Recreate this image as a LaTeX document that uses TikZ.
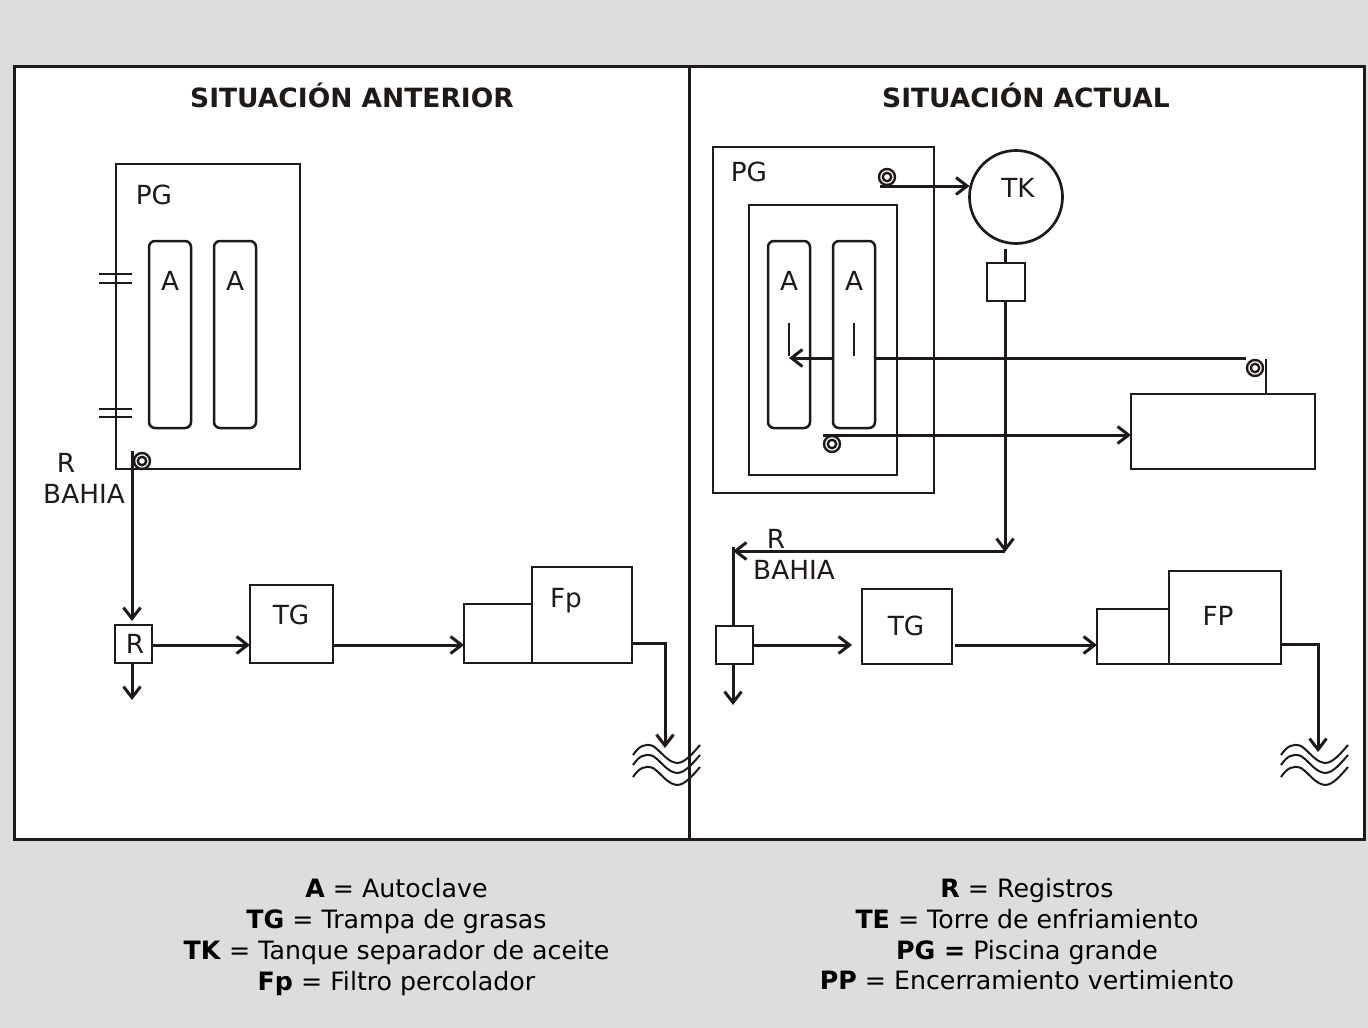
\documentclass[tikz,border=0pt]{standalone}
\usepackage{fontspec}
\setmainfont{DejaVu Sans}
\usepackage{xcolor}
\definecolor{panelGray}{HTML}{DDDDDD}
\definecolor{inkBlack}{HTML}{1F1A17}
\usetikzlibrary{arrows.meta}
\tikzset{
  boxnode/.style={draw=inkBlack, fill=white, line width=2.7pt, inner sep=0pt, outer sep=0pt, anchor=north west},
  tanknode/.style={boxnode, line width=2.5pt, rounded corners=6pt},
  pipe/.style={draw=inkBlack, line width=3pt, line cap=butt},
  tick/.style={draw=inkBlack, line width=2.1pt},
  label/.style={text=inkBlack, inner sep=0pt, font=\fontsize{26.3}{31}\selectfont},
  heading/.style={text=inkBlack, inner sep=0pt, font=\fontsize{26.5}{31}\selectfont\bfseries},
  legend/.style={text=black, inner sep=0pt, align=center, font=\fontsize{25.25}{30.7}\selectfont},
}
% drain symbol, three waves
\newcommand{\waves}[2]{
  \foreach \dy in {0,10,22}
    \draw[inkBlack, line width=2pt] (#1,#2+\dy) .. controls (#1+6,#2-9+\dy) and (#1+12,#2-12+\dy) .. (#1+20,#2-9+\dy)
      .. controls (#1+28,#2-4+\dy) and (#1+34,#2+7+\dy) .. (#1+44,#2+8+\dy)
      .. controls (#1+52,#2+8+\dy) and (#1+60,#2-2+\dy) .. (#1+67,#2-10+\dy);
}
% valve mark
\newcommand{\valve}[3]{
  \node[circle, draw=inkBlack, fill=white, line width=2.4pt, minimum size=16pt, inner sep=0pt] (#1) at (#2,#3) {};
  \draw[inkBlack, line width=2.4pt] (#1.center) circle (4.2);
}
\begin{document}
\begin{tikzpicture}[x=1pt, y=-1pt, >={Straight Barb[length=11pt, width=17pt]}]
  \useasboundingbox (0,0) rectangle (1368,1028);
  \fill[panelGray] (0,0) rectangle (1368,1028);
  % panels
  \node[boxnode, line width=3pt, minimum width=675, minimum height=773] (panelOld) at (14,66) {};
  \node[boxnode, line width=3pt, minimum width=675, minimum height=773] (panelNew) at (689,66) {};
  \node[heading] (titleOld) at (352,95.5) {SITUACIÓN ANTERIOR};
  \node[heading] (titleNew) at (1026,95.5) {SITUACIÓN ACTUAL};

  % situacion anterior
  \node[boxnode, minimum width=184, minimum height=305] (pgOld) at (116,164) {};
  \node[label] (pgOldText) at (154,195) {PG};
  \node[tanknode, minimum width=42, minimum height=187] (tankOldA) at (149,241) {};
  \node[tanknode, minimum width=42, minimum height=187] (tankOldB) at (214,241) {};
  \node[label] (tankOldAText) at (170,281) {A};
  \node[label] (tankOldBText) at (235,281) {A};
  \draw[tick] (99,274) -- (132,274) (99,283) -- (132,283);
  \draw[tick] (99,409) -- (132,409) (99,417) -- (132,417);
  \valve{valveOld}{142}{461}
  \coordinate (pipeOldStart) at (132,451);
  \node[label] (rOldText) at (66,463) {R};
  \node[label] (bahiaOldText) at (84,494) {BAHIA};
  \node[boxnode, minimum width=37, minimum height=38] (regOld) at (115,625) {};
  \node[label] (regOldText) at (135,644) {R};
  \coordinate (regOldIn) at (132,621);
  \coordinate (regOldOut) at (132,663);
  \coordinate (regOldEnd) at (132,700);
  \draw[pipe, ->] (pipeOldStart) -- (regOldIn);
  \draw[pipe, ->] (regOldOut) -- (regOldEnd);
  \node[boxnode, minimum width=83, minimum height=78] (tgOld) at (250,585) {};
  \node[label] (tgOldText) at (291,615) {TG};
  \node[boxnode, minimum width=68, minimum height=59] (preOld) at (464,604) {};
  \node[boxnode, minimum width=100, minimum height=96] (fpOld) at (532,567) {};
  \node[label] (fpOldText) at (566,601) {Fp};
  \draw[pipe, ->] (regOld.east |- 0,645) -- (tgOld.west |- 0,645);
  \draw[pipe, ->] (tgOld.east |- 0,645) -- (preOld.west |- 0,645);
  \waves{633}{755}
  \coordinate (dropOld) at (665,748);
  \draw[pipe, ->] (fpOld.east |- 0,643) -| (dropOld);

  % situacion actual
  \node[boxnode, minimum width=221, minimum height=346] (pgNew) at (713,147) {};
  \node[label] (pgNewText) at (749,172) {PG};
  \node[boxnode, minimum width=148, minimum height=270] (pondNew) at (749,205) {};
  \node[tanknode, fill=none, minimum width=42, minimum height=187] (tankNewA) at (768,241) {};
  \coordinate (arrowNewEnd) at (789,358);
  \coordinate (pipeNewStart) at (1246,358);
  \draw[pipe, ->] (pipeNewStart) -- (arrowNewEnd);
  \node[tanknode, minimum width=42, minimum height=187] (tankNewB) at (833,241) {};
  \node[label] (tankNewAText) at (789,281) {A};
  \node[label] (tankNewBText) at (854,281) {A};
  \draw[tick] (789,323) -- (789,356);
  \draw[tick] (854,323) -- (854,356);
  \valve{valveTop}{887}{177}
  \node[circle, draw=inkBlack, fill=white, line width=2.7pt, minimum size=93, inner sep=0pt, outer sep=0pt] (tkNew) at (1016,197) {};
  \node[label] (tkNewText) at (1018,188) {TK};
  \coordinate (valveTopOut) at (880,186);
  \draw[pipe, ->] (valveTopOut) -- (tkNew.west |- 0,186);
  \node[boxnode, minimum width=38, minimum height=38] (regTk) at (987,263) {};
  \coordinate (regTkTop) at (1005,249);
  \coordinate (junctionNew) at (1005,552);
  \draw[pipe] (regTkTop) -- (regTk.north -| regTkTop);
  \draw[pipe, ->] (regTk.south -| regTkTop) -- (junctionNew);
  \node[boxnode, minimum width=184, minimum height=75] (teNew) at (1131,394) {};
  \valve{valveRight}{1255}{368}
  \draw[tick, line width=2.6pt] (1266,359) -- (teNew.north -| 1266,0);
  \valve{valveLow}{832}{444}
  \coordinate (valveLowOut) at (823,435);
  \draw[pipe, ->] (valveLowOut) -- (teNew.west |- 0,435);
  \node[label] (rNewText) at (776,539) {R};
  \node[label] (bahiaNewText) at (794,570) {BAHIA};
  \node[boxnode, minimum width=37, minimum height=38] (regNew) at (716,626) {};
  \coordinate (cornerNew) at (733,551);
  \coordinate (cornerTop) at (733,547);
  \coordinate (regNewOut) at (733,664);
  \coordinate (regNewEnd) at (733,705);
  \draw[pipe, ->] (junctionNew |- cornerNew) -- (cornerNew);
  \draw[pipe] (cornerTop) -- (regNew.north -| cornerTop);
  \draw[pipe, ->] (regNewOut) -- (regNewEnd);
  \node[boxnode, minimum width=90, minimum height=75] (tgNew) at (862,589) {};
  \node[label] (tgNewText) at (906,626) {TG};
  \node[boxnode, minimum width=72, minimum height=55] (preNew) at (1097,609) {};
  \node[boxnode, minimum width=112, minimum height=93] (fpNew) at (1169,571) {};
  \node[label] (fpNewText) at (1218,616) {FP};
  \coordinate (regNewEnd2) at (852,645);
  \coordinate (tgNewOut) at (955,645);
  \draw[pipe, ->] (regNew.east |- regNewEnd2) -- (regNewEnd2);
  \draw[pipe, ->] (tgNewOut) -- (preNew.west |- tgNewOut);
  \waves{1281}{755}
  \coordinate (dropNew) at (1318,752);
  \draw[pipe, ->] (fpNew.east |- 0,644) -| (dropNew);

  % legend
  \node[legend] (legendOld) at (396.5,937) {\textbf{A} = Autoclave\\ \textbf{TG} = Trampa de grasas\\ \textbf{TK} = Tanque separador de aceite\\ \textbf{Fp} = Filtro percolador};
  \node[legend] (legendNew) at (1027,934.5) {\textbf{R} = Registros\\ \textbf{TE} = Torre de enfriamiento\\ \textbf{PG =} Piscina grande\\ \textbf{PP} = Encerramiento vertimiento};
\end{tikzpicture}
\end{document}
